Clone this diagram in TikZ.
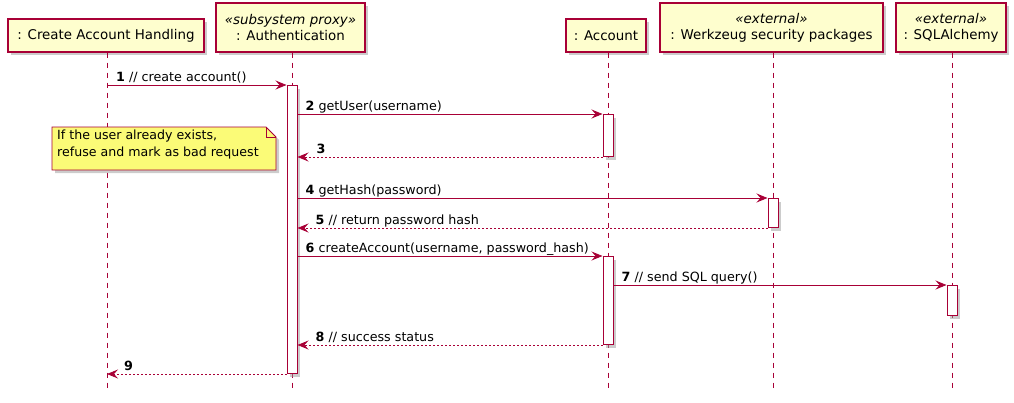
\documentclass[tikz,border=0pt]{standalone}
\usepackage{fontspec}
\setmainfont{DejaVu Sans}
\usetikzlibrary{arrows.meta,shadows}
\definecolor{pborder}{HTML}{A80036}
\definecolor{pfill}{HTML}{FEFECE}
\definecolor{nfill}{HTML}{FBFB77}
\begin{document}
\begin{tikzpicture}[x=1pt,y=-1pt,
  shad/.style={drop shadow={shadow xshift=3pt,shadow yshift=-3pt,fill=black!40,opacity=.5}},
  part/.style={draw=pborder,fill=pfill,line width=1.1pt,inner sep=0pt,align=center,
    font=\fontsize{13.4}{16}\selectfont,shad},
  act/.style={draw=pborder,fill=white,line width=1pt,minimum width=10pt,inner sep=0pt,shad},
  life/.style={draw=pborder,line width=0.9pt,dash pattern=on 5pt off 5pt},
  msg/.style={draw=pborder,line width=0.9pt,-{Stealth[length=11pt,width=9pt,inset=4pt]}},
  ret/.style={msg,dash pattern=on 2pt off 2pt},
  lbl/.style={anchor=base west,inner sep=0pt,font=\fontsize{12.7}{16}\selectfont},
  notetext/.style={anchor=north west,inner sep=0pt,align=left,font=\fontsize{12.6}{17}\selectfont}]
\useasboundingbox (0,0) rectangle (1014,402);

% participants
\node[part,minimum width=196pt,minimum height=33pt] (cah) at (106,35.5) {: Create Account Handling};
\node[part,minimum width=149pt,minimum height=49pt] (auth) at (290.5,27.5) {\textit{«subsystem proxy»}\\: Authentication};
\node[part,minimum width=80pt,minimum height=33pt] (acc) at (606,35.5) {: Account};
\node[part,minimum width=223pt,minimum height=49pt] (werk) at (771.5,27.5) {\textit{«external»}\\: Werkzeug security packages};
\node[part,minimum width=110pt,minimum height=49pt] (sql) at (951,27.5) {\textit{«external»}\\: SQLAlchemy};

% lifeline ends
\coordinate (cahE) at (107,392);
\coordinate (authE) at (292,392);
\coordinate (accE) at (608,392);
\coordinate (werkE) at (773,392);
\coordinate (sqlE) at (952,392);
\draw[life] (cah.south -| cahE) -- (cahE);
\draw[life] (auth.south -| authE) -- (authE);
\draw[life] (acc.south -| accE) -- (accE);
\draw[life] (werk.south -| werkE) -- (werkE);
\draw[life] (sql.south -| sqlE) -- (sqlE);

% note
\path[draw=pborder,fill=nfill,line width=0.8pt,shad]
  (52,127) -- (266,127) -- (276,137) -- (276,170) -- (52,170) -- cycle;
\draw[pborder,line width=0.8pt] (266,127) -- (266,137) -- (276,137);
\node[notetext] (note) at (57,130) {If the user already exists,\\refuse and mark as bad request};

% activations
\node[act,anchor=north,minimum height=288pt] (a1) at (292,85) {};
\node[act,anchor=north,minimum height=42pt] (acc1) at (608,114) {};
\node[act,anchor=north,minimum height=29pt] (w1) at (773,198) {};
\node[act,anchor=north,minimum height=88pt] (acc2) at (608,256) {};
\node[act,anchor=north,minimum height=30pt] (s1) at (952,285) {};

% messages
\draw[msg] (cahE |- a1.north) coordinate (m1s) -- (a1.north west);
\node[lbl] (l1) at ([shift={(9,-4)}]m1s) {\textbf{1} // create account()};

\draw[msg] (a1.east |- acc1.north) coordinate (m2s) -- (acc1.north west);
\node[lbl] (l2) at ([shift={(8,-4)}]m2s) {\textbf{2} getUser(username)};

\draw[ret] (acc1.south west) -- (a1.east |- acc1.south) coordinate (m3e);
\node[lbl] (l3) at ([shift={(19,-4)}]m3e) {\textbf{3}};

\draw[msg] (a1.east |- w1.north) coordinate (m4s) -- (w1.north west);
\node[lbl] (l4) at ([shift={(8,-4)}]m4s) {\textbf{4} getHash(password)};

\draw[ret] (w1.south west) -- (a1.east |- w1.south) coordinate (m5e);
\node[lbl] (l5) at ([shift={(18,-4)}]m5e) {\textbf{5} // return password hash};

\draw[msg] (a1.east |- acc2.north) coordinate (m6s) -- (acc2.north west);
\node[lbl] (l6) at ([shift={(8,-4)}]m6s) {\textbf{6} createAccount(username, password\_hash)};

\draw[msg] (acc2.east |- s1.north) coordinate (m7s) -- (s1.north west);
\node[lbl] (l7) at ([shift={(8,-4)}]m7s) {\textbf{7} // send SQL query()};

\draw[ret] (acc2.south west) -- (a1.east |- acc2.south) coordinate (m8e);
\node[lbl] (l8) at ([shift={(18,-4)}]m8e) {\textbf{8} // success status};

\draw[ret] (a1.south west) -- (cahE |- a1.south) coordinate (m9e);
\node[lbl] (l9) at ([shift={(17,-4)}]m9e) {\textbf{9}};
\end{tikzpicture}
\end{document}
